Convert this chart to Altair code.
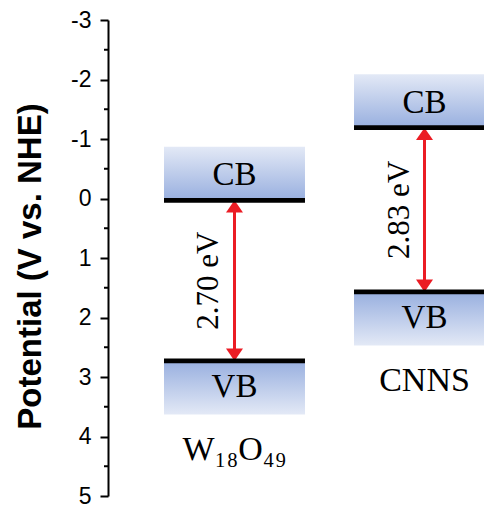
import altair as alt
import pandas as pd

# ---- data ----
materials = ["W18O49", "CNNS"]
material_names = ["W\u2081\u2088O\u2084\u2089", "CNNS"]
cb_potential = [0.03, -1.19]
vb_potential = [2.73, 1.57]
gap_labels = ["2.70 eV", "2.83 eV"]
band_names = ["CB", "VB"]
major_ticks = [-3, -2, -1, 0, 1, 2, 3, 4, 5]
minor_ticks = [-2.5, -1.5, -0.5, 0.5, 1.5, 2.5, 3.5, 4.5]
y_title = "Potential (V vs. NHE)"

df = pd.DataFrame({
    "material": materials,
    "name": material_names,
    "cb": cb_potential,
    "vb": vb_potential,
    "gap": gap_labels,
})
minor_df = pd.DataFrame({"p": minor_ticks})

RED = "#eb1c24"
LIGHT = "#e3e9f6"
DARK = "#98afdf"
SERIF = "Liberation Serif"

yscale = alt.Scale(domain=[-3, 5], reverse=True, nice=False, zero=False)
yaxis = alt.Axis(values=major_ticks, labelExpr="'' + datum.value")


def Y(field):
    return alt.Y(field, type="quantitative", scale=yscale, axis=yaxis, title=y_title)


xenc = alt.X("material:N", scale=alt.Scale(domain=materials, range=[56, 387],
                                           paddingInner=0.258, paddingOuter=0), axis=None)

base = alt.Chart(df).transform_calculate(
    cb_top="datum.cb - 0.9",
    vb_bot="datum.vb + 0.9",
    cb_lo="datum.cb - 0.04",
    cb_hi="datum.cb + 0.04",
    vb_lo="datum.vb - 0.04",
    vb_hi="datum.vb + 0.04",
    cb_text="datum.cb - 0.42",
    vb_text="datum.vb + 0.44",
    mid="(datum.cb + datum.vb) / 2",
    name_y="datum.vb + 1.5",
    shaft_top="datum.cb + 0.15",
    shaft_bot="datum.vb - 0.15",
)

grad_cb = alt.Gradient(gradient="linear",
                       stops=[alt.GradientStop(color=LIGHT, offset=0), alt.GradientStop(color=DARK, offset=1)],
                       x1=0, x2=0, y1=0, y2=1)
grad_vb = alt.Gradient(gradient="linear",
                       stops=[alt.GradientStop(color=DARK, offset=0), alt.GradientStop(color=LIGHT, offset=1)],
                       x1=0, x2=0, y1=0, y2=1)

cb_box = base.mark_rect(color=grad_cb).encode(x=xenc, y=Y("cb_top"), y2=alt.Y2("cb:Q"))
vb_box = base.mark_rect(color=grad_vb).encode(x=xenc, y=Y("vb"), y2=alt.Y2("vb_bot:Q"))

shaft = base.mark_rule(color=RED, strokeWidth=3).encode(x=xenc, y=Y("shaft_top"), y2=alt.Y2("shaft_bot:Q"))
head_up = base.mark_point(shape="M0,0L-1,1.45L1,1.45Z", filled=True, size=289, color=RED, opacity=1).encode(
    x=xenc, y=Y("cb"))
head_down = base.mark_point(shape="M0,0L-1,-1.45L1,-1.45Z", filled=True, size=289, color=RED, opacity=1).encode(
    x=xenc, y=Y("vb"))

cb_line = base.mark_rect(color="black").encode(x=xenc, y=Y("cb_lo"), y2=alt.Y2("cb_hi:Q"))
vb_line = base.mark_rect(color="black").encode(x=xenc, y=Y("vb_lo"), y2=alt.Y2("vb_hi:Q"))

cb_text = base.mark_text(font=SERIF, fontSize=33, color="black", baseline="middle", align="center").encode(
    x=xenc, y=Y("cb_text"), text=alt.value(band_names[0]))
vb_text = base.mark_text(font=SERIF, fontSize=33, color="black", baseline="middle", align="center").encode(
    x=xenc, y=Y("vb_text"), text=alt.value(band_names[1]))
gap_text = base.mark_text(font=SERIF, fontSize=31, color="black", baseline="alphabetic", align="center",
                          angle=270, dy=-16).encode(x=xenc, y=Y("mid"), text="gap:N")
name_text = base.mark_text(font=SERIF, fontSize=34, color="black", baseline="middle", align="center").encode(
    x=xenc, y=Y("name_y"), text="name:N")

minor = alt.Chart(minor_df).mark_rule(color="black", strokeWidth=2).encode(
    x=alt.value(-4), x2=alt.value(0), y=Y("p"))

chart = alt.layer(
    cb_box, vb_box, shaft, head_up, head_down, cb_line, vb_line,
    cb_text, vb_text, gap_text, name_text, minor,
).properties(
    width=376, height=476,
    autosize=alt.AutoSizeParams(type="none"),
    padding={"left": 100, "top": 12, "right": 0, "bottom": 12},
    background="white",
).configure_view(stroke=None).configure_axis(
    grid=False,
    tickSize=8, tickWidth=2, tickColor="black",
    domainColor="black", domainWidth=2,
    labelFont="Liberation Sans", labelFontSize=23, labelColor="black", labelPadding=9,
    titleFont="Liberation Sans", titleFontSize=33, titleFontWeight="bold", titleColor="black",
    titleAngle=270, titleX=-78, titleY=246, titleAlign="center", titleBaseline="middle",
)

chart.save("out.html", embed_options={"renderer": "svg", "actions": False})
